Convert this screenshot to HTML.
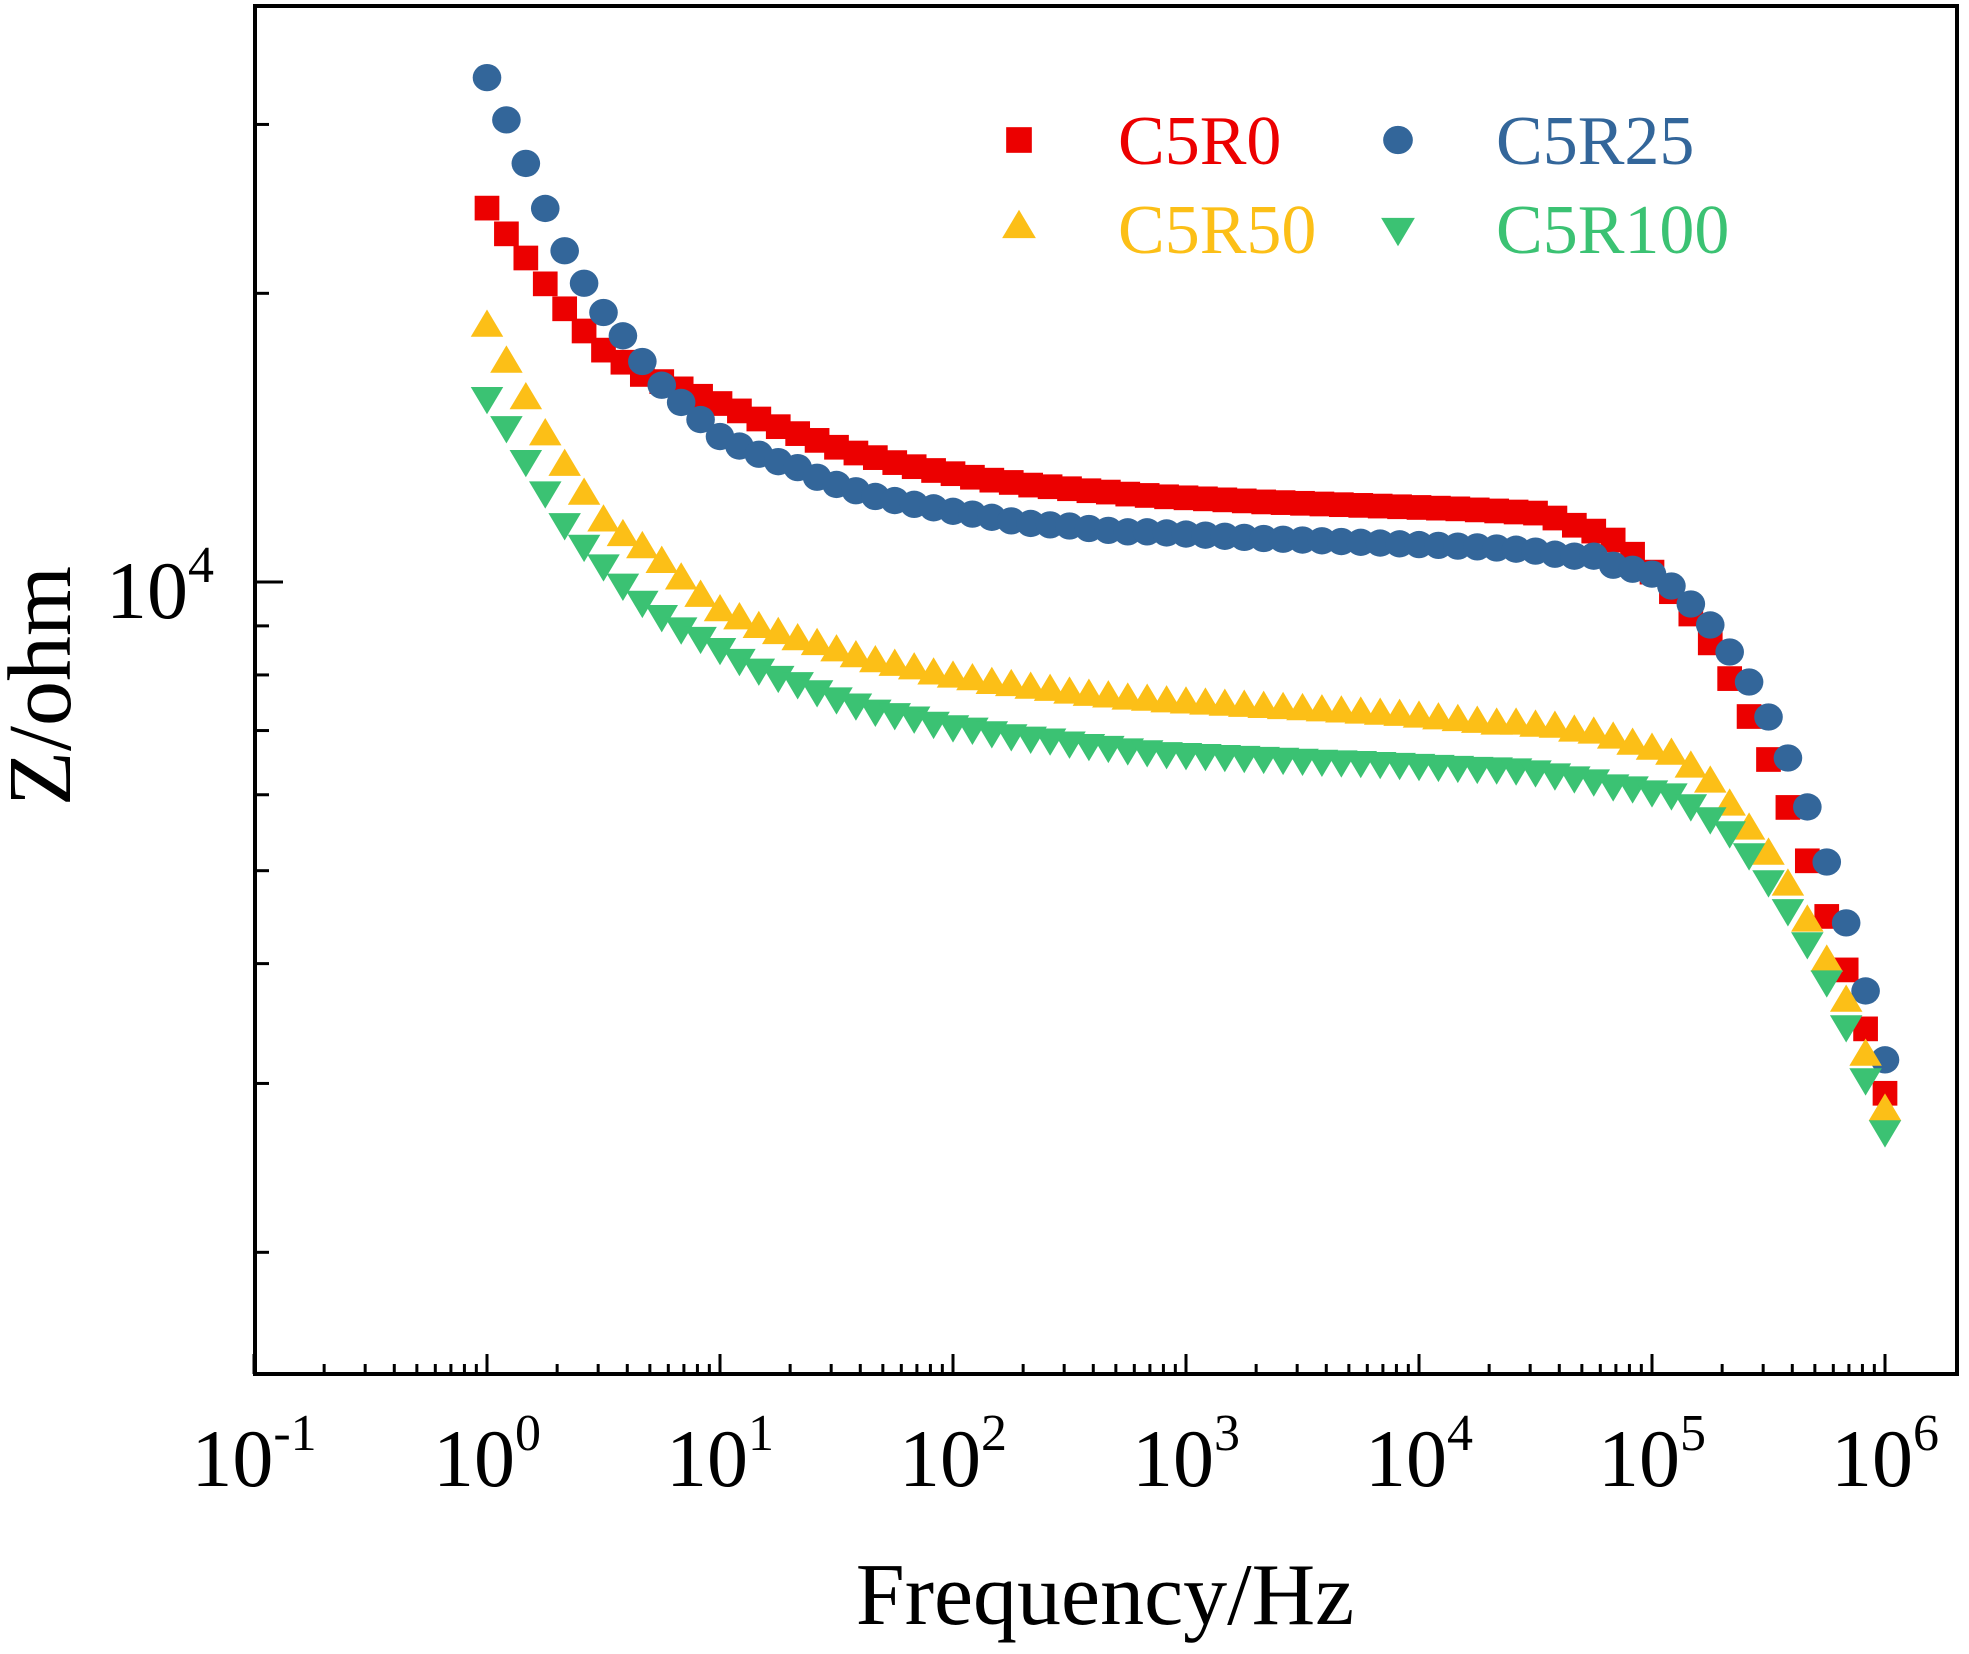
<!DOCTYPE html>
<html><head><meta charset="utf-8"><style>
html,body{margin:0;padding:0;background:#fff;}
svg{display:block;font-family:"Liberation Serif","Times New Roman",serif;}
</style></head><body>
<svg id="chart" width="1969" height="1654" viewBox="0 0 1969 1654" xmlns="http://www.w3.org/2000/svg">
<g id="axes"></g>
<g id="series"></g>
<g id="legend"></g>
<text transform="translate(70,686) rotate(-90)" text-anchor="middle" font-size="90">Z/ohm</text>
<text x="1105" y="1624" text-anchor="middle" font-size="88">Frequency/Hz</text>
</svg>
<script>
const pointsPerDecade = 12;
const red = [24540,23070,21770,20460,19270,18270,17450,16950,16460,16180,15900,15620,15350,15080,14790,14520,14280,14050,13820,13630,13480,13320,13190,13070,12970,12860,12770,12700,12620,12570,12510,12450,12410,12350,12310,
12270,12240,12210,12180,12150,12120,12100,12080,12060,12040,12020,12000,11980,11960,11940,11920,11890,11860,11830,
11800,11660,11460,11300,11060,10690,10240,9770,9260,8640,7930,7240,6530,5820,5120,4480,3940,3420,2930];
const blue = [33570,30330,27320,24520,22150,20490,19100,18060,16980,16040,15390,14770,14180,13860,13590,13350,13160,12860,12640,12450,12280,12160,12050,11950,11850,11770,11680,11580,11510,11470,11440,11370,11320,11280,11280,
11250,11220,11190,11160,11130,11100,11080,11060,11040,11020,11000,10980,10960,10940,10920,10900,10880,10850,
10820,10770,10690,10640,10640,10410,10310,10190,9904,9486,9020,8453,7866,7232,6554,5827,5105,4411,3746,3175];
const yellow = [18530,17000,15570,14280,13270,12380,11610,11210,10890,10510,10100,9690,9360,9180,8990,8860,8730,8630,8500,8380,8280,8210,8140,8040,7980,7930,7860,7820,7770,7730,7680,7640,7610,7570,7550,
7520,7500,7480,7460,7440,7420,7400,7380,7360,7340,7320,7300,7280,7250,7220,7190,7160,
7129,7129,7094,7076,7010,6976,6893,6793,6712,6632,6430,6202,5869,5540,5217,4843,4442,4035,3665,3219,2822];
const green = [15530,14480,13350,12380,11470,10890,10390,9920,9520,9200,8930,8730,8500,8280,8090,7950,7830,7680,7550,7440,7330,7270,7210,7120,7060,7020,6960,6910,6870,6840,6790,6750,6720,6680,6650,
6620,6605,6590,6575,6560,6545,6530,6515,6500,6490,6480,6465,6450,6435,6420,6405,6390,
6381,6366,6336,6290,6245,6200,6127,6097,6039,5996,5840,5661,5474,5192,4866,4540,4194,3827,3436,3025,2670];
const xTickExps = [-1,0,1,2,3,4,5,6];
const yMajorExps = [4];
const yMinorVals = [2000,3000,4000,5000,6000,7000,8000,9000,20000,30000];
const seriesNames = ["C5R0","C5R25","C5R50","C5R100"];

const NS = "http://www.w3.org/2000/svg";
const L = 255, R = 1957, T = 6, B = 1374;
const xDec0 = 487, xPerDec = 233;
const y4 = 582, yPerDec = 959;
function xScale(f){ return xDec0 + Math.log10(f)*xPerDec; }
function yScale(z){ return y4 - (Math.log10(z)-4)*yPerDec; }
function mk(tag, attrs, parent){ const e=document.createElementNS(NS,tag); for(const k in attrs) e.setAttribute(k,attrs[k]); parent.appendChild(e); return e; }

const axes = document.getElementById('axes');
const frame = mk('rect',{x:L,y:T,width:R-L,height:B-T,fill:'none',stroke:'#000','stroke-width':4},axes);


xTickExps.forEach(e=>{
  const x = xScale(Math.pow(10,e));
  const t = mk('line',{x1:x,x2:x,y1:B,y2:B-20,stroke:'#000','stroke-width':3},axes);
  
  
  const lab = mk('text',{x:x,y:1486,'text-anchor':'middle','font-size':82},axes);
  
  
  lab.textContent='10';
  const sup = mk('tspan',{dy:-36,'font-size':52},lab);
  sup.textContent = String(e);
  if(e<6){
    for(let m=2;m<=9;m++){
      const xm = xScale(m*Math.pow(10,e));
      const mt = mk('line',{x1:xm,x2:xm,y1:B,y2:B-10,stroke:'#000','stroke-width':3},axes);
      
      
    }
  }
});
yMajorExps.forEach(e=>{
  const y = yScale(Math.pow(10,e));
  const t = mk('line',{x1:L,x2:L+28,y1:y,y2:y,stroke:'#000','stroke-width':3},axes);
  
  
  const lab = mk('text',{x:106,y:y+36,'font-size':82},axes);
  
  
  lab.textContent='10';
  const sup = mk('tspan',{dy:-36,'font-size':52},lab);
  sup.textContent=String(e);
});
yMinorVals.forEach(v=>{
  const y = yScale(v);
  const t = mk('line',{x1:L,x2:L+14,y1:y,y2:y,stroke:'#000','stroke-width':3},axes);
  
  
});

const colors = ['#EC0000','#33669A','#FCBF17','#3BC273'];
const shapes = ['square','circle','up','down'];
function marker(g, shape, x, y, color, s){
  let e;
  if(shape==='square') e = mk('rect',{x:x-s*0.95,y:y-s*0.95,width:s*1.9,height:s*1.9,fill:color},g);
  else if(shape==='circle') e = mk('ellipse',{cx:x,cy:y,rx:s*1.1,ry:s*1.05,fill:color},g);
  else if(shape==='up') e = mk('polygon',{points:`${x-s*1.25},${y+s*0.9} ${x+s*1.25},${y+s*0.9} ${x},${y-s*1.2}`,fill:color},g);
  else e = mk('polygon',{points:`${x-s*1.25},${y-s*0.9} ${x+s*1.25},${y-s*0.9} ${x},${y+s*1.2}`,fill:color},g);
  return e;
}
const seriesG = document.getElementById('series');
[red,blue,yellow,green].forEach((arr,si)=>{
  const g = mk('g',{},seriesG);
  
  
  arr.forEach((z,i)=>{
    const f = Math.pow(10, i/pointsPerDecade);
    const m = marker(g, shapes[si], xScale(f), yScale(z), colors[si], 13);
    
    
  });
});
const leg = document.getElementById('legend');
const legPos = [[1019,140,1118,164],[1398,140,1496,164],[1019,226,1118,253],[1398,230,1496,253]];
legPos.forEach((p,i)=>{
  const m = marker(leg, shapes[i], p[0], p[1], colors[i], 13.5);
  
  
  const t = mk('text',{x:p[2],y:p[3],fill:colors[i],'font-size':70},leg);
  
  
  t.textContent = seriesNames[i];
});
</script>
</body></html>
